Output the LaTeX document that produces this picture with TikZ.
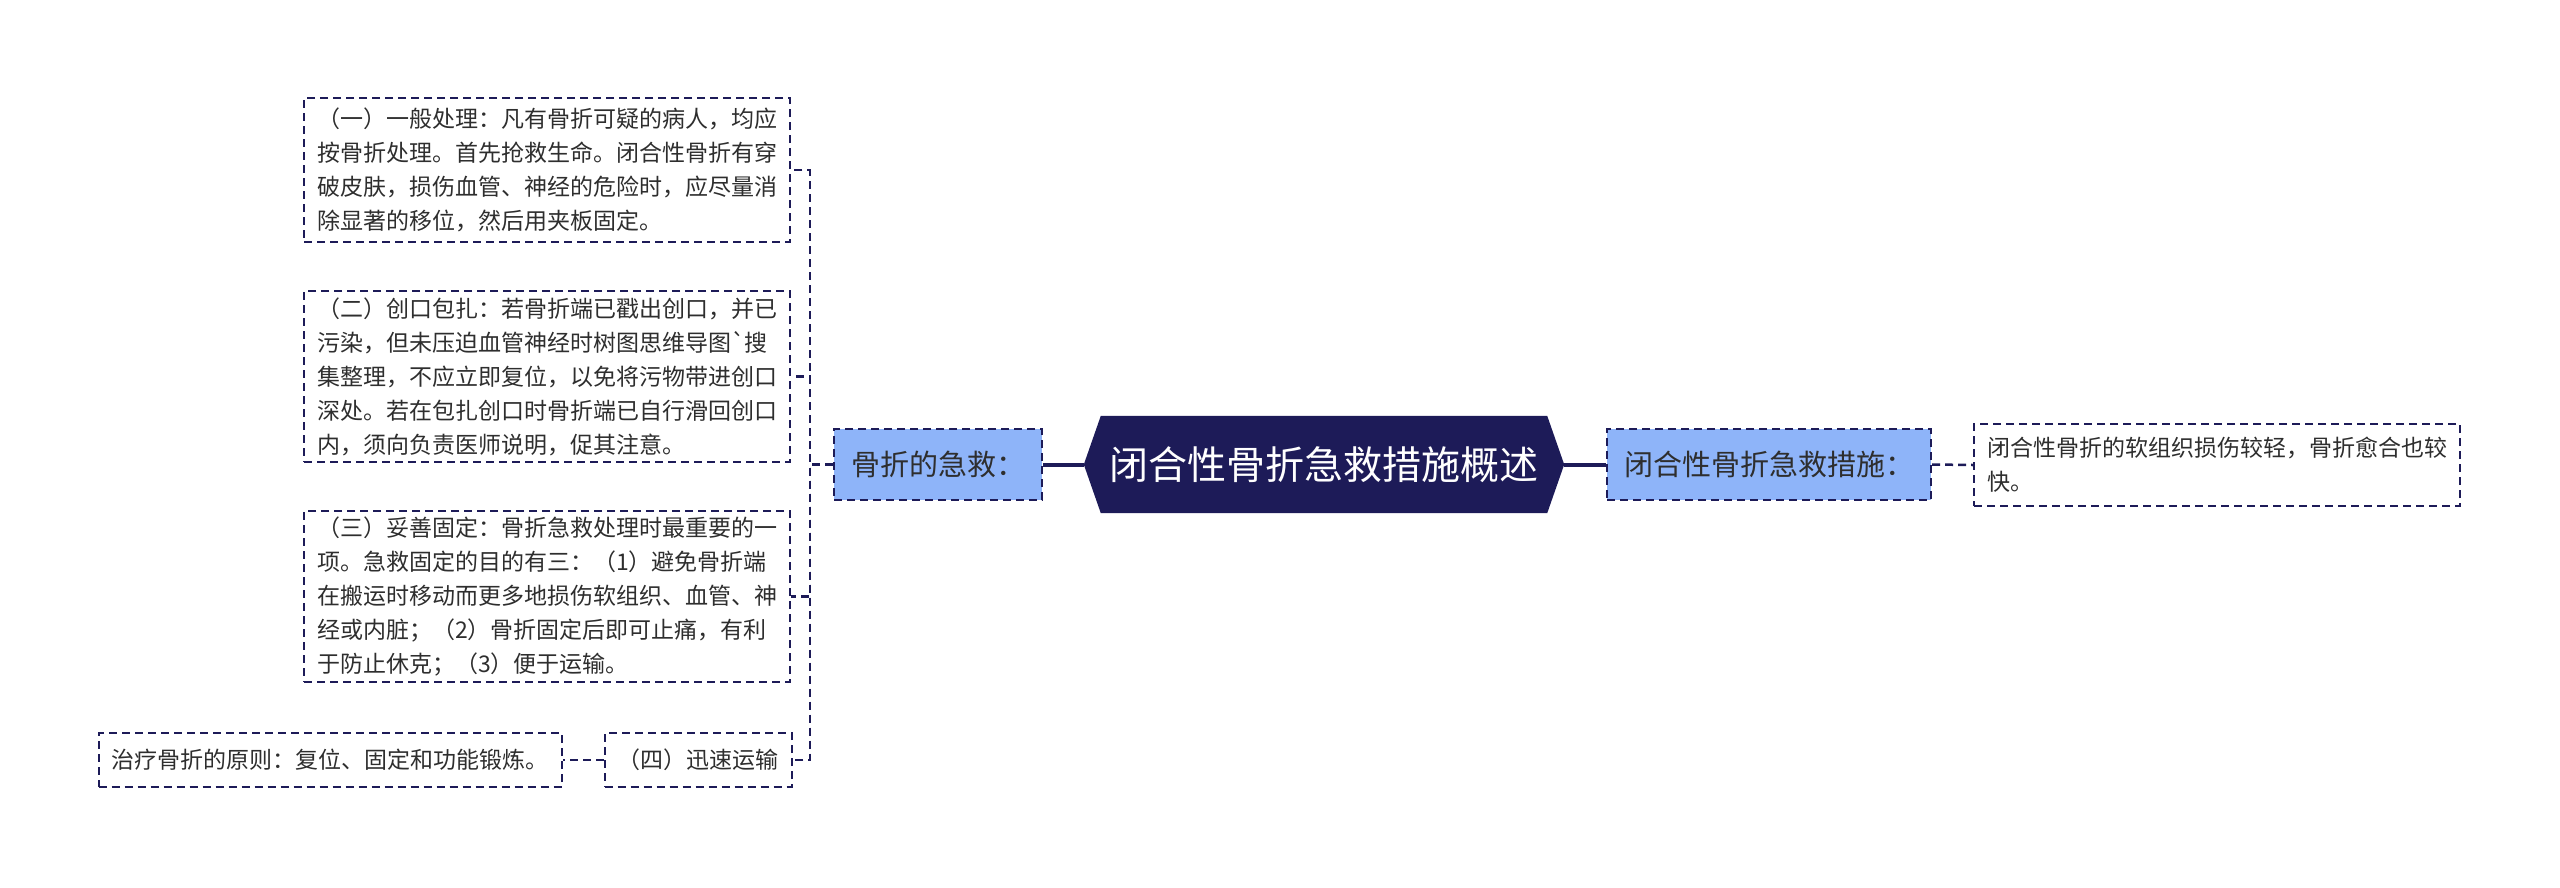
\documentclass[tikz,border=0pt]{standalone}
\usepackage{fontspec}
\setmainfont{Noto Sans CJK SC}
\font\gravefont="Noto Sans CJK SC" at 23pt
\usetikzlibrary{backgrounds}
\definecolor{navy}{HTML}{1D1B58}
\definecolor{lblue}{HTML}{8EB4F9}
\definecolor{txt}{HTML}{2E2E2E}
\tikzset{
  leafbox/.style={draw=navy, line width=2pt, dash pattern=on 8pt off 5pt,
    align=left, inner xsep=13pt, inner ysep=0pt, text=txt,
    font=\fontsize{23}{34}\selectfont},
  subbox/.style={draw=navy, fill=lblue, line width=2.2pt, dash pattern=on 8pt off 5pt,
    inner xsep=17pt, inner ysep=0pt, minimum height=71pt, text=txt,
    font=\fontsize{29}{36}\selectfont},
  conn/.style={draw=navy, line width=2.5pt, dash pattern=on 8pt off 5pt},
  mainconn/.style={draw=navy, line width=4pt},
  titlebox/.style={minimum width=480pt, minimum height=97pt, inner sep=0pt,
    text=white, font=\fontsize{39}{44}\selectfont},
}
\begin{document}
\begin{tikzpicture}[x=1pt,y=-1pt]
\useasboundingbox (0,0) rectangle (2560,887);
% center
\node[titlebox] (c) at (1324,464.5) {闭合性骨折急救措施概述};
\begin{scope}[on background layer]
\fill[navy] (c.west) -- ([xshift=17pt]c.north west) -- ([xshift=-17pt]c.north east)
  -- (c.east) -- ([xshift=-17pt]c.south east) -- ([xshift=17pt]c.south west) -- cycle;
\end{scope}
% left branch
\node[subbox] (l) at (938,464.5) {骨折的急救：};
\node[leafbox, minimum height=144pt] (b1) at (547,170) {（一）一般处理：凡有骨折可疑的病人，均应\\按骨折处理。首先抢救生命。闭合性骨折有穿\\破皮肤，损伤血管、神经的危险时，应尽量消\\除显著的移位，然后用夹板固定。};
\node[leafbox, minimum height=171pt] (b2) at (547,376.5) {（二）创口包扎：若骨折端已戳出创口，并已\\污染，但未压迫血管神经时树图思维导图{\gravefont\char"60}搜\\集整理，不应立即复位，以免将污物带进创口\\深处。若在包扎创口时骨折端已自行滑回创口\\内，须向负责医师说明，促其注意。};
\node[leafbox, minimum height=171pt] (b3) at (547,596.5) {（三）妥善固定：骨折急救处理时最重要的一\\项。急救固定的目的有三：（1）避免骨折端\\在搬运时移动而更多地损伤软组织、血管、神\\经或内脏；（2）骨折固定后即可止痛，有利\\于防止休克；（3）便于运输。};
\node[leafbox, minimum height=54pt] (b4) at (698,760) {（四）迅速运输};
\node[leafbox, minimum height=54pt] (b5) at (330,760) {治疗骨折的原则：复位、固定和功能锻炼。};
% right branch
\node[subbox] (r) at (1769,464.5) {闭合性骨折急救措施：};
\node[leafbox, minimum height=82pt] (r1) at (2217,465) {闭合性骨折的软组织损伤较轻，骨折愈合也较\\快。};
% connectors
\draw[mainconn] (c.west) -- (l.east);
\draw[mainconn] (c.east) -- (r.west);
\foreach \t in {b1,b2,b3,b4}
  \draw[conn] (l.west) -- ++(-23,0) |- (\t.east);
\draw[conn] (b4.west) -- (b5.east);
\draw[conn] (r.east) -- (r1.west);
\end{tikzpicture}
\end{document}
